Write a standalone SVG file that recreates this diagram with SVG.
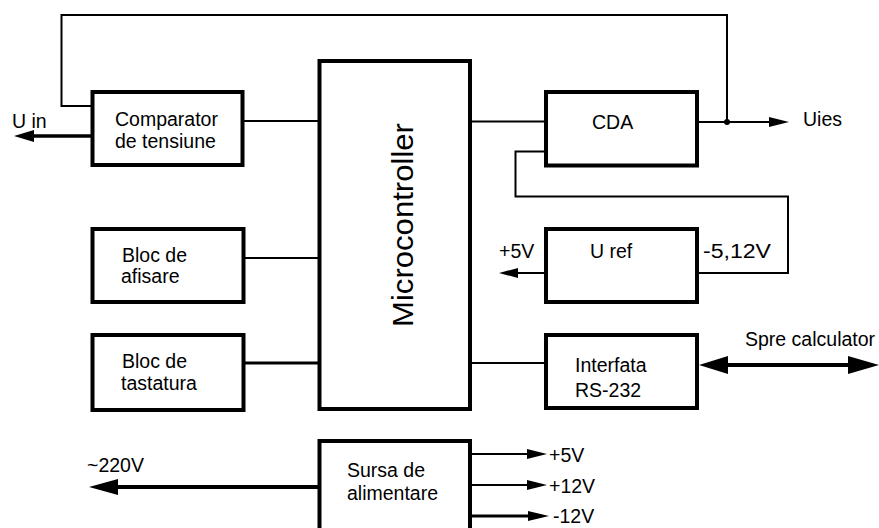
<svg xmlns="http://www.w3.org/2000/svg" width="879" height="528" viewBox="0 0 879 528">
<style>
.box{fill:#fff;stroke:#000;stroke-width:4}
.ln{fill:none;stroke:#000;stroke-width:2}
.thk{fill:none;stroke:#000;stroke-width:3.5}
.t{font-family:"Liberation Sans",Arial,sans-serif;font-size:19.5px;fill:#000}
.ah{fill:#000}
</style>
<rect width="879" height="528" fill="#fff"/>
<g id="connectors">
<polyline class="ln" points="92,106 61.5,106 61.5,15 727,15 727,122"/>
<line class="ln" x1="243" y1="121" x2="320" y2="121"/>
<line class="thk" x1="92" y1="136" x2="30" y2="136"/>
<polygon class="ah" points="14,136 34,130 34,142"/>
<line class="ln" x1="470" y1="121.5" x2="546" y2="121.5"/>
<line class="ln" x1="697" y1="122" x2="772" y2="122"/>
<polygon class="ah" points="789,122 769,117 769,127"/>
<circle cx="727" cy="122" r="3" fill="#000"/>
<polyline class="ln" points="546,151.5 515.5,151.5 515.5,196.5 788,196.5 788,273 697,273"/>
<line class="ln" x1="546" y1="273" x2="514" y2="273"/>
<polygon class="ah" points="499,273 518,268 518,278"/>
<line class="ln" x1="243" y1="258" x2="320" y2="258"/>
<line class="thk" x1="243" y1="363" x2="320" y2="363" style="stroke-width:3"/>
<line class="ln" x1="470" y1="363" x2="546" y2="363"/>
<line class="thk" x1="720" y1="365" x2="855" y2="365" style="stroke-width:4"/>
<polygon class="ah" points="699,365 728,356 728,374"/>
<polygon class="ah" points="879,365 848,356 848,374"/>
<line class="thk" x1="320" y1="487" x2="110" y2="487" style="stroke-width:4"/>
<polygon class="ah" points="89,487 118,479 118,495"/>
<line class="ln" x1="470" y1="454" x2="532" y2="454"/>
<polygon class="ah" points="547,454 527,449 527,459"/>
<line class="ln" x1="470" y1="485" x2="532" y2="485"/>
<polygon class="ah" points="547,485 527,480 527,490"/>
<line class="thk" x1="470" y1="516" x2="532" y2="516" style="stroke-width:3"/>
<polygon class="ah" points="549,516 528,511 528,521"/>
</g>
<g id="comparator">
<rect class="box" x="92.5" y="92" width="150" height="73"/>
<text class="t" x="115" y="126">Comparator</text>
<text class="t" x="115" y="148">de tensiune</text>
</g>
<g id="microcontroller">
<rect class="box" x="319.5" y="61" width="150.5" height="348"/>
<text class="t" transform="translate(413,225) rotate(-90)" text-anchor="middle" style="font-size:29px" textLength="204" lengthAdjust="spacingAndGlyphs">Microcontroller</text>
</g>
<g id="cda">
<rect class="box" x="546" y="92" width="151" height="73.5"/>
<text class="t" x="592" y="129">CDA</text>
</g>
<g id="uref">
<rect class="box" x="546" y="229" width="151" height="73"/>
<text class="t" x="590" y="258">U ref</text>
</g>
<g id="afisare">
<rect class="box" x="92.5" y="229" width="151" height="73"/>
<text class="t" x="122" y="262">Bloc de</text>
<text class="t" x="121" y="283">afisare</text>
</g>
<g id="tastatura">
<rect class="box" x="92.5" y="335" width="151" height="75"/>
<text class="t" x="122" y="368">Bloc de</text>
<text class="t" x="121" y="390">tastatura</text>
</g>
<g id="interfata">
<rect class="box" x="546" y="335" width="151" height="73"/>
<text class="t" x="575" y="372">Interfata</text>
<text class="t" x="575" y="397">RS-232</text>
</g>
<g id="sursa">
<rect class="box" x="319.5" y="441" width="150.5" height="100"/>
<text class="t" x="347" y="477">Sursa de</text>
<text class="t" x="347" y="500">alimentare</text>
</g>
<g id="labels">
<text class="t" x="12" y="128">U in</text>
<text class="t" x="803" y="126">Uies</text>
<text class="t" x="499" y="258">+5V</text>
<text class="t" x="703" y="258" textLength="68" lengthAdjust="spacingAndGlyphs">-5,12V</text>
<text class="t" x="745" y="346">Spre calculator</text>
<text class="t" x="87" y="472">~220V</text>
<text class="t" x="549" y="462">+5V</text>
<text class="t" x="549" y="493">+12V</text>
<text class="t" x="553" y="523">-12V</text>
</g>
</svg>
